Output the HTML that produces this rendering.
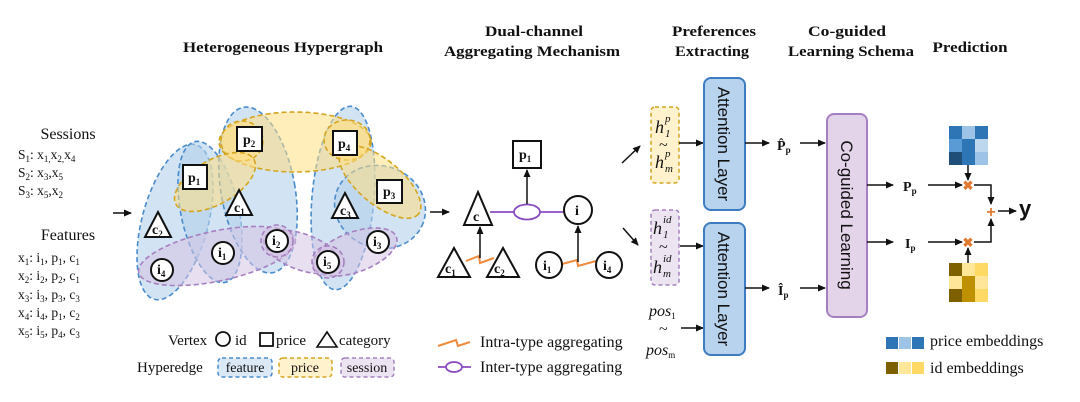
<!DOCTYPE html>
<html><head><meta charset="utf-8"><style>
html,body{margin:0;padding:0;background:#fff;}
svg{display:block;}
text{font-family:"Liberation Serif",serif;fill:#111;}
.t{font-weight:bold;font-size:15px;}
.s{font-size:13.5px;}
.n{font-size:14px;font-weight:bold;}
.ss{font-size:9px;}
.hi{font-size:18px;font-style:italic;}
.sp{font-size:11px;font-style:italic;}
</style></head><body>
<svg width="1080" height="402" viewBox="0 0 1080 402" xmlns="http://www.w3.org/2000/svg">
<defs>
<marker id="ah" markerWidth="8" markerHeight="8" refX="7" refY="4" orient="auto" markerUnits="userSpaceOnUse"><path d="M0,0.5 L8,4 L0,7.5z" fill="#111"/></marker>
</defs>
<!-- titles -->
<text class="t" x="283" y="52" text-anchor="middle" textLength="200" lengthAdjust="spacingAndGlyphs">Heterogeneous Hypergraph</text>
<text class="t" x="534" y="36" text-anchor="middle" textLength="98" lengthAdjust="spacingAndGlyphs">Dual-channel</text>
<text class="t" x="532" y="56" text-anchor="middle" textLength="176" lengthAdjust="spacingAndGlyphs">Aggregating Mechanism</text>
<text class="t" x="714" y="36" text-anchor="middle" textLength="84" lengthAdjust="spacingAndGlyphs">Preferences</text>
<text class="t" x="712" y="56" text-anchor="middle" textLength="74" lengthAdjust="spacingAndGlyphs">Extracting</text>
<text class="t" x="847" y="36" text-anchor="middle" textLength="78" lengthAdjust="spacingAndGlyphs">Co-guided</text>
<text class="t" x="851" y="56" text-anchor="middle" textLength="126" lengthAdjust="spacingAndGlyphs">Learning Schema</text>
<text class="t" x="970" y="52" text-anchor="middle" textLength="75" lengthAdjust="spacingAndGlyphs">Prediction</text>

<!-- left text -->
<text x="68" y="139" text-anchor="middle" font-size="16">Sessions</text>
<text class="s" x="18" y="159">S<tspan class="ss" dy="3">1</tspan><tspan dy="-3">: x</tspan><tspan class="ss" dy="3">1,</tspan><tspan dy="-3">x</tspan><tspan class="ss" dy="3">2,</tspan><tspan dy="-3">x</tspan><tspan class="ss" dy="3">4</tspan></text>
<text class="s" x="18" y="177">S<tspan class="ss" dy="3">2</tspan><tspan dy="-3">: x</tspan><tspan class="ss" dy="3">3</tspan><tspan dy="-3">,x</tspan><tspan class="ss" dy="3">5</tspan></text>
<text class="s" x="18" y="195">S<tspan class="ss" dy="3">3</tspan><tspan dy="-3">: x</tspan><tspan class="ss" dy="3">5</tspan><tspan dy="-3">,x</tspan><tspan class="ss" dy="3">2</tspan></text>
<text x="68" y="240" text-anchor="middle" font-size="16">Features</text>
<g class="s">
<text x="18" y="262">x<tspan class="ss" dy="3">1</tspan><tspan dy="-3">: i</tspan><tspan class="ss" dy="3">1</tspan><tspan dy="-3">, p</tspan><tspan class="ss" dy="3">1</tspan><tspan dy="-3">, c</tspan><tspan class="ss" dy="3">1</tspan></text>
<text x="18" y="280">x<tspan class="ss" dy="3">2</tspan><tspan dy="-3">: i</tspan><tspan class="ss" dy="3">2</tspan><tspan dy="-3">, p</tspan><tspan class="ss" dy="3">2</tspan><tspan dy="-3">, c</tspan><tspan class="ss" dy="3">1</tspan></text>
<text x="18" y="299">x<tspan class="ss" dy="3">3</tspan><tspan dy="-3">: i</tspan><tspan class="ss" dy="3">3</tspan><tspan dy="-3">, p</tspan><tspan class="ss" dy="3">3</tspan><tspan dy="-3">, c</tspan><tspan class="ss" dy="3">3</tspan></text>
<text x="18" y="317">x<tspan class="ss" dy="3">4</tspan><tspan dy="-3">: i</tspan><tspan class="ss" dy="3">4</tspan><tspan dy="-3">, p</tspan><tspan class="ss" dy="3">1</tspan><tspan dy="-3">, c</tspan><tspan class="ss" dy="3">2</tspan></text>
<text x="18" y="335">x<tspan class="ss" dy="3">5</tspan><tspan dy="-3">: i</tspan><tspan class="ss" dy="3">5</tspan><tspan dy="-3">, p</tspan><tspan class="ss" dy="3">4</tspan><tspan dy="-3">, c</tspan><tspan class="ss" dy="3">3</tspan></text>
</g>
<line x1="113" y1="213" x2="131" y2="213" stroke="#111" stroke-width="1.5" marker-end="url(#ah)"/>

<!-- hyperedges -->
<g stroke-dasharray="5,3" stroke-width="1.6">
<g fill="rgba(180,208,235,0.6)" stroke="#4a8ccc">
<ellipse cx="175" cy="222" rx="33" ry="80" transform="rotate(15 175 222)"/>
<ellipse cx="210" cy="212" rx="29" ry="72" transform="rotate(-12 210 212)"/>
<ellipse cx="258" cy="190" rx="37" ry="84" transform="rotate(-10 258 190)"/>
<ellipse cx="343" cy="198" rx="31" ry="92" transform="rotate(5 343 198)"/>
<ellipse cx="380" cy="207" rx="46" ry="41" transform="rotate(20 380 207)"/>
</g>
<g fill="rgba(255,222,130,0.55)" stroke="#d4a520">
<ellipse cx="295" cy="142" rx="76" ry="30"/>
<ellipse cx="242" cy="141" rx="21" ry="20"/>
<ellipse cx="215" cy="182" rx="45" ry="22" transform="rotate(-30 215 182)"/>
<ellipse cx="347" cy="140" rx="23" ry="20"/>
<ellipse cx="380" cy="182" rx="50" ry="22" transform="rotate(40 380 182)"/>
</g>
<g fill="rgba(214,196,228,0.55)" stroke="#a680c0">
<ellipse cx="217" cy="256" rx="80" ry="25" transform="rotate(-12 217 256)"/>
<ellipse cx="302" cy="252" rx="40" ry="18" transform="rotate(20 302 252)"/>
<ellipse cx="355" cy="252" rx="44" ry="20" transform="rotate(-20 355 252)"/>
<circle cx="277" cy="241" r="16"/>
<circle cx="328" cy="262" r="16"/>
</g>
</g>

<!-- vertices hypergraph -->
<g stroke="#111" stroke-width="2" fill="#fff">
<rect x="237" y="127" width="25" height="24"/>
<rect x="333" y="131" width="24" height="24"/>
<rect x="183" y="165" width="24" height="24"/>
<rect x="377" y="180" width="25" height="23"/>
<path d="M239,190 L252,215 L226,215Z"/>
<path d="M345,193 L358,218 L332,218Z"/>
<path d="M158,212 L171,237 L145,237Z"/>
<circle cx="277" cy="241" r="11"/>
<circle cx="223" cy="253" r="11"/>
<circle cx="162" cy="270" r="11"/>
<circle cx="328" cy="262" r="11"/>
<circle cx="378" cy="242" r="11"/>
</g>
<g class="n">
<text x="243" y="144">p<tspan class="ss" dy="3">2</tspan></text>
<text x="338" y="148">p<tspan class="ss" dy="3">4</tspan></text>
<text x="188" y="182">p<tspan class="ss" dy="3">1</tspan></text>
<text x="383" y="196">p<tspan class="ss" dy="3">3</tspan></text>
<text x="234" y="212">c<tspan class="ss" dy="3">1</tspan></text>
<text x="340" y="215">c<tspan class="ss" dy="3">3</tspan></text>
<text x="152" y="234">c<tspan class="ss" dy="3">2</tspan></text>
<text x="272" y="245">i<tspan class="ss" dy="3">2</tspan></text>
<text x="218" y="257">i<tspan class="ss" dy="3">1</tspan></text>
<text x="157" y="274">i<tspan class="ss" dy="3">4</tspan></text>
<text x="323" y="266">i<tspan class="ss" dy="3">5</tspan></text>
<text x="373" y="246">i<tspan class="ss" dy="3">3</tspan></text>
</g>

<!-- bottom legend -->
<text x="168" y="345" font-size="15">Vertex</text>
<circle cx="223" cy="339" r="7" fill="none" stroke="#111" stroke-width="1.8"/>
<text x="235" y="345" font-size="15">id</text>
<rect x="260" y="333" width="13" height="13" fill="none" stroke="#111" stroke-width="1.8"/>
<text x="276" y="345" font-size="15">price</text>
<path d="M327,332 L337,347 L317,347Z" fill="none" stroke="#111" stroke-width="1.6"/>
<text x="339" y="345" font-size="15">category</text>
<text x="137" y="372" font-size="15">Hyperedge</text>
<g stroke-dasharray="4,3" stroke-width="1.5">
<rect x="218" y="358" width="54" height="19" rx="4" fill="#dbe8f5" stroke="#4a8ccc"/>
<rect x="279" y="358" width="53" height="19" rx="4" fill="#fff2cc" stroke="#d4a520"/>
<rect x="341" y="358" width="53" height="19" rx="4" fill="#ede4f2" stroke="#a680c0"/>
</g>
<text x="245" y="372" font-size="14" text-anchor="middle">feature</text>
<text x="305" y="372" font-size="14" text-anchor="middle">price</text>
<text x="367" y="372" font-size="14" text-anchor="middle">session</text>

<line x1="430" y1="212" x2="449" y2="212" stroke="#111" stroke-width="1.5" marker-end="url(#ah)"/>

<!-- middle -->
<line x1="490" y1="212" x2="564" y2="212" stroke="#8a4bc0" stroke-width="1.8"/>
<ellipse cx="527" cy="212" rx="13" ry="7.5" fill="#fff" stroke="#8a4bc0" stroke-width="1.8"/>
<line x1="527" y1="204" x2="527" y2="170" stroke="#111" stroke-width="1.5" marker-end="url(#ah)"/>
<rect x="513" y="141" width="28" height="27" fill="#fff" stroke="#111" stroke-width="2"/>
<text class="n" x="519" y="159">p<tspan class="ss" dy="3">1</tspan></text>
<path d="M478,192 L492,225 L464,225Z" fill="#fff" stroke="#111" stroke-width="2"/>
<text class="n" x="473" y="221">c</text>
<circle cx="578" cy="210" r="14" fill="#fff" stroke="#111" stroke-width="2"/>
<text class="n" x="575" y="215">i</text>
<polyline points="466,261 479,256 480,263 494,258" fill="none" stroke="#f08a3c" stroke-width="2"/>
<line x1="480" y1="258" x2="480" y2="227" stroke="#111" stroke-width="1.5" marker-end="url(#ah)"/>
<polyline points="562,264 577,260 578,266 596,261" fill="none" stroke="#f08a3c" stroke-width="2"/>
<line x1="578" y1="262" x2="578" y2="226" stroke="#111" stroke-width="1.5" marker-end="url(#ah)"/>
<path d="M454,248 L470,277 L438,277Z" fill="#fff" stroke="#111" stroke-width="2"/>
<text class="n" x="445" y="273">c<tspan class="ss" dy="3">1</tspan></text>
<path d="M503,248 L519,277 L487,277Z" fill="#fff" stroke="#111" stroke-width="2"/>
<text class="n" x="494" y="273">c<tspan class="ss" dy="3">2</tspan></text>
<circle cx="549" cy="265" r="13" fill="#fff" stroke="#111" stroke-width="2"/>
<text class="n" x="543" y="270">i<tspan class="ss" dy="3">1</tspan></text>
<circle cx="609" cy="265" r="13" fill="#fff" stroke="#111" stroke-width="2"/>
<text class="n" x="603" y="270">i<tspan class="ss" dy="3">4</tspan></text>
<polyline points="438,346 456,340 458,346 470,342" fill="none" stroke="#f08a3c" stroke-width="2"/>
<text x="480" y="347" font-size="16">Intra-type aggregating</text>
<line x1="438" y1="367" x2="471" y2="367" stroke="#8a4bc0" stroke-width="1.8"/>
<ellipse cx="454" cy="367" rx="8" ry="5" fill="#fff" stroke="#8a4bc0" stroke-width="1.8"/>
<text x="480" y="372" font-size="16">Inter-type aggregating</text>

<!-- preferences -->
<line x1="622" y1="163" x2="640" y2="146" stroke="#111" stroke-width="1.5" marker-end="url(#ah)"/>
<line x1="623" y1="228" x2="638" y2="245" stroke="#111" stroke-width="1.5" marker-end="url(#ah)"/>
<rect x="651" y="107" width="28" height="76" rx="4" fill="#fff2cc" stroke="#d4a520" stroke-width="1.5" stroke-dasharray="4,3"/>
<rect x="651" y="210" width="28" height="75" rx="4" fill="#ede4f2" stroke="#a680c0" stroke-width="1.5" stroke-dasharray="4,3"/>
<text class="hi" x="655" y="133">h</text><text class="sp" x="665" y="122">p</text><text class="sp" x="665" y="137" font-style="normal">1</text>
<text x="659" y="150" font-size="16">~</text>
<text class="hi" x="655" y="168">h</text><text class="sp" x="665" y="157">p</text><text class="sp" x="665" y="172">m</text>
<text class="hi" x="653" y="234">h</text><text class="sp" x="663" y="223">id</text><text class="sp" x="663" y="238" font-style="normal">1</text>
<text x="659" y="252" font-size="16">~</text>
<text class="hi" x="653" y="273">h</text><text class="sp" x="663" y="262">id</text><text class="sp" x="663" y="277">m</text>
<text x="649" y="316" font-size="16" font-style="italic">pos<tspan class="ss" dy="3" font-style="normal">1</tspan></text>
<text x="659" y="334" font-size="16">~</text>
<text x="646" y="355" font-size="16" font-style="italic">pos<tspan class="ss" dy="3" font-style="normal">m</tspan></text>
<line x1="679" y1="143" x2="703" y2="143" stroke="#111" stroke-width="1.5" marker-end="url(#ah)"/>
<line x1="680" y1="246" x2="703" y2="246" stroke="#111" stroke-width="1.5" marker-end="url(#ah)"/>
<line x1="681" y1="328" x2="703" y2="328" stroke="#111" stroke-width="1.5" marker-end="url(#ah)"/>
<rect x="704" y="78" width="41" height="132" rx="7" fill="#b8d3ee" stroke="#3d7cc0" stroke-width="2"/>
<rect x="704" y="223" width="41" height="132" rx="7" fill="#b8d3ee" stroke="#3d7cc0" stroke-width="2"/>
<text transform="translate(718,144) rotate(90)" text-anchor="middle" font-size="17" style="font-family:'Liberation Sans',sans-serif">Attention Layer</text>
<text transform="translate(718,289) rotate(90)" text-anchor="middle" font-size="17" style="font-family:'Liberation Sans',sans-serif">Attention Layer</text>
<line x1="745" y1="143" x2="769" y2="143" stroke="#111" stroke-width="1.5" marker-end="url(#ah)"/>
<line x1="745" y1="288" x2="769" y2="288" stroke="#111" stroke-width="1.5" marker-end="url(#ah)"/>
<text class="n" x="777" y="150" font-size="15">P̂<tspan class="ss" dy="3">p</tspan></text>
<text class="n" x="778" y="295" font-size="15">Î<tspan class="ss" dy="3">p</tspan></text>
<line x1="800" y1="143" x2="825" y2="143" stroke="#111" stroke-width="1.5" marker-end="url(#ah)"/>
<line x1="800" y1="288" x2="825" y2="288" stroke="#111" stroke-width="1.5" marker-end="url(#ah)"/>
<rect x="827" y="114" width="40" height="203" rx="7" fill="#e3d4ea" stroke="#a57fc0" stroke-width="2"/>
<text transform="translate(841,215) rotate(90)" text-anchor="middle" font-size="17" style="font-family:'Liberation Sans',sans-serif">Co-guided Learning</text>

<!-- prediction -->
<line x1="867" y1="185" x2="893" y2="185" stroke="#111" stroke-width="1.5" marker-end="url(#ah)"/>
<line x1="867" y1="242" x2="893" y2="242" stroke="#111" stroke-width="1.5" marker-end="url(#ah)"/>
<text class="n" x="903" y="191" font-size="15">P<tspan class="ss" dy="3">p</tspan></text>
<text class="n" x="905" y="248" font-size="15">I<tspan class="ss" dy="3">p</tspan></text>
<line x1="928" y1="185" x2="962" y2="185" stroke="#111" stroke-width="1.5" marker-end="url(#ah)"/>
<line x1="928" y1="242" x2="962" y2="242" stroke="#111" stroke-width="1.5" marker-end="url(#ah)"/>
<g>
<rect x="949" y="126" width="13" height="13" fill="#2e75b6"/><rect x="962" y="126" width="13" height="13" fill="#9dc3e6"/><rect x="975" y="126" width="13" height="13" fill="#2e75b6"/>
<rect x="949" y="139" width="13" height="13" fill="#5b9bd5"/><rect x="962" y="139" width="13" height="13" fill="#2e75b6"/><rect x="975" y="139" width="13" height="13" fill="#bdd7ee"/>
<rect x="949" y="152" width="13" height="13" fill="#1f4e79"/><rect x="962" y="152" width="13" height="13" fill="#2e75b6"/><rect x="975" y="152" width="13" height="13" fill="#9dc3e6"/>
<rect x="949" y="263" width="13" height="13" fill="#7f6000"/><rect x="962" y="263" width="13" height="13" fill="#ffe699"/><rect x="975" y="263" width="13" height="13" fill="#ffd966"/>
<rect x="949" y="276" width="13" height="13" fill="#ffe699"/><rect x="962" y="276" width="13" height="13" fill="#bf9000"/><rect x="975" y="276" width="13" height="13" fill="#ffe699"/>
<rect x="949" y="289" width="13" height="13" fill="#7f6000"/><rect x="962" y="289" width="13" height="13" fill="#bf9000"/><rect x="975" y="289" width="13" height="13" fill="#ffd966"/>
</g>
<line x1="968" y1="165" x2="968" y2="180" stroke="#111" stroke-width="1.5" marker-end="url(#ah)"/>
<line x1="968" y1="263" x2="968" y2="248" stroke="#111" stroke-width="1.5" marker-end="url(#ah)"/>
<text x="968" y="190" text-anchor="middle" font-size="13" font-weight="bold" style="fill:#e07a30">✖</text>
<text x="968" y="247" text-anchor="middle" font-size="13" font-weight="bold" style="fill:#e07a30">✖</text>
<polyline points="974,185 991,185 991,204" fill="none" stroke="#111" stroke-width="1.5" marker-end="url(#ah)"/>
<polyline points="974,242 991,242 991,219" fill="none" stroke="#111" stroke-width="1.5" marker-end="url(#ah)"/>
<text x="991" y="217" text-anchor="middle" font-size="16" font-weight="bold" style="fill:#e07a30;font-family:'Liberation Sans',sans-serif">+</text>
<line x1="998" y1="211" x2="1016" y2="211" stroke="#111" stroke-width="1.5" marker-end="url(#ah)"/>
<text x="1019" y="216" font-size="22" font-weight="bold" style="font-family:'Liberation Sans',sans-serif">y</text>

<rect x="886" y="337" width="12" height="12" fill="#2e75b6"/><rect x="899" y="337" width="12" height="12" fill="#9dc3e6"/><rect x="912" y="337" width="12" height="12" fill="#2e75b6"/>
<text x="930" y="346" font-size="16">price embeddings</text>
<rect x="886" y="362" width="12" height="12" fill="#7f6000"/><rect x="899" y="362" width="12" height="12" fill="#ffe699"/><rect x="912" y="362" width="12" height="12" fill="#ffd966"/>
<text x="930" y="373" font-size="16">id embeddings</text>
</svg>
</body></html>
